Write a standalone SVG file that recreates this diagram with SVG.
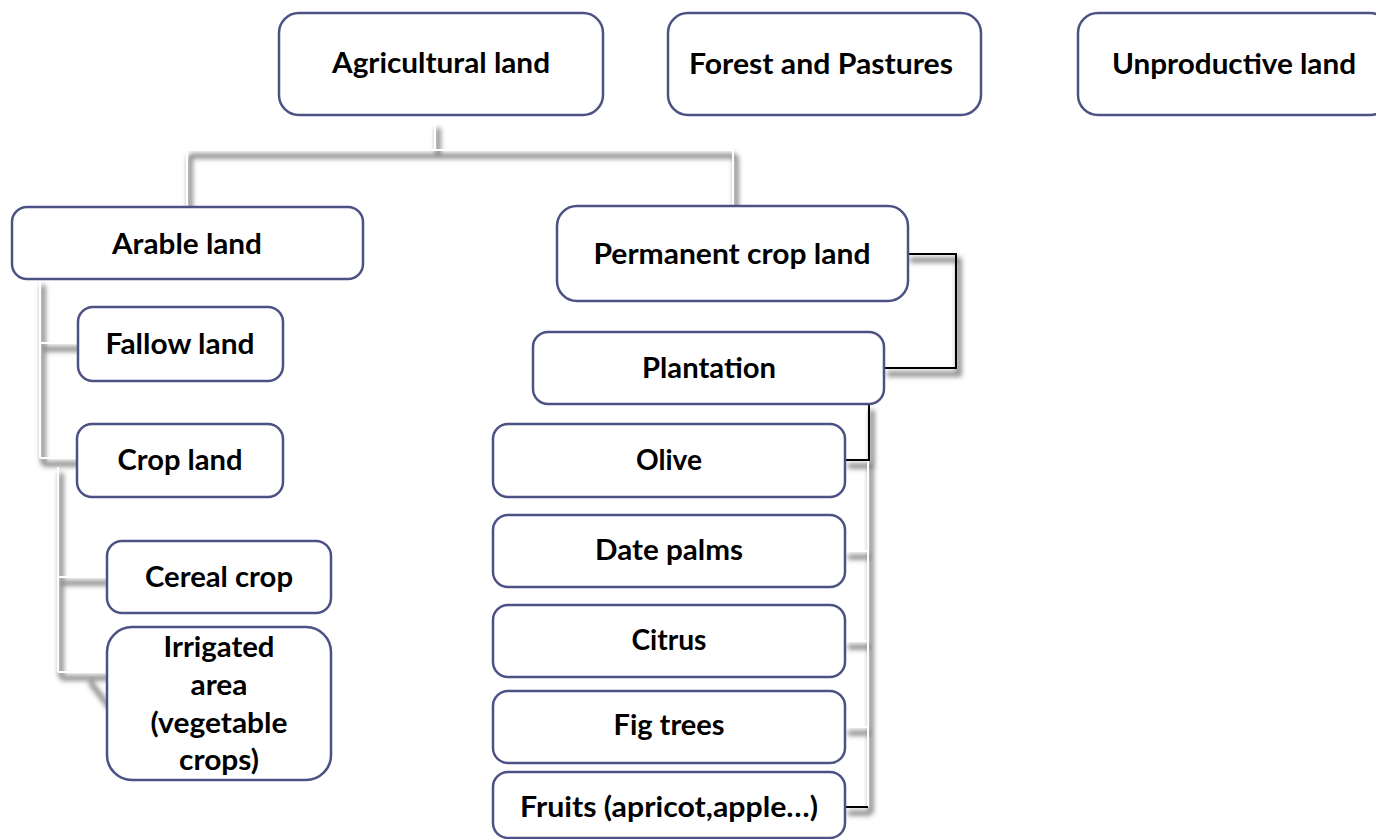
<svg xmlns="http://www.w3.org/2000/svg" width="1376" height="839" viewBox="0 0 1376 839">
<style>
.box{fill:#fff;stroke:#4c5283;stroke-width:2.5}
.t{font-family:Lato,"Open Sans","Liberation Sans",sans-serif;font-weight:700;font-size:29px;fill:#000;text-anchor:middle}
.sh{fill:none;stroke:#666;stroke-width:5;stroke-opacity:0.8}
.w{fill:none;stroke:#fff;stroke-width:2}
.k{fill:none;stroke:#000;stroke-width:2}
</style>
<defs>
<filter id="blur" x="-20%" y="-20%" width="140%" height="140%"><feGaussianBlur stdDeviation="2.5"/></filter>
</defs>
<rect width="1376" height="839" fill="#fff"/>
<g id="connectors">
<g id="shadows" class="sh" filter="url(#blur)" transform="translate(3,6)">
<path d="M435,122 V150 M187,150 H733 M187,150 V207 M733,150 V207"/>
<path d="M40,279 V458 M40,343 H78 M40,458 H77"/>
<path d="M58,467 V672 M58,577 H107 M58,672 H107"/>
<path d="M87,676 L107,702"/>
<path d="M907,254 H956 V368 H884"/>
<path d="M869,404 V460 H845"/>
<path d="M868,460 V807 M845,551 H868 M845,641 H868 M845,727 H868 M845,807 H868"/>
</g>
<g id="white-lines" class="w">
<path d="M435,122 V150 M187,150 H733 M187,150 V207 M733,150 V207"/>
<path d="M40,279 V458 M40,343 H78 M40,458 H77"/>
<path d="M58,467 V672 M58,577 H107 M58,672 H107"/>
<path d="M868,460 V807 M845,551 H868 M845,641 H868 M845,727 H868"/>
</g>
<g id="black-lines" class="k">
<path d="M907,254 H956 V368 H884"/>
<path d="M869,404 V460 H845"/>
<path d="M845,807 H868"/>
</g>
</g>
<g id="agricultural"><rect class="box" x="279" y="13" width="324" height="102" rx="20"/><text class="t" x="441" y="73" textLength="218" lengthAdjust="spacingAndGlyphs">Agricultural land</text></g>
<g id="forest"><rect class="box" x="668" y="13" width="313" height="102" rx="20"/><text class="t" x="821" y="74" textLength="264" lengthAdjust="spacingAndGlyphs">Forest and Pastures</text></g>
<g id="unproductive"><rect class="box" x="1078" y="13" width="312" height="102" rx="20"/><text class="t" x="1234" y="74" textLength="244" lengthAdjust="spacingAndGlyphs">Unproductive land</text></g>
<g id="arable"><rect class="box" x="12" y="207" width="351" height="72" rx="15"/><text class="t" x="187" y="254" textLength="150" lengthAdjust="spacingAndGlyphs">Arable land</text></g>
<g id="fallow"><rect class="box" x="78" y="307" width="205" height="74" rx="15"/><text class="t" x="180" y="354" textLength="149" lengthAdjust="spacingAndGlyphs">Fallow land</text></g>
<g id="cropland"><rect class="box" x="77" y="424" width="206" height="73" rx="15"/><text class="t" x="180" y="470" textLength="125" lengthAdjust="spacingAndGlyphs">Crop land</text></g>
<g id="cereal"><rect class="box" x="107" y="541" width="224" height="72" rx="15"/><text class="t" x="219" y="587" textLength="148" lengthAdjust="spacingAndGlyphs">Cereal crop</text></g>
<g id="irrigated"><rect class="box" x="107" y="627" width="224" height="153" rx="25"/>
<text class="t" x="219" y="657" textLength="111" lengthAdjust="spacingAndGlyphs">Irrigated</text>
<text class="t" x="219" y="695" textLength="57" lengthAdjust="spacingAndGlyphs">area</text>
<text class="t" x="219" y="733" textLength="137" lengthAdjust="spacingAndGlyphs">(vegetable</text>
<text class="t" x="219" y="770" textLength="80" lengthAdjust="spacingAndGlyphs">crops)</text></g>
<g id="permanent"><rect class="box" x="557" y="206" width="351" height="95" rx="20"/><text class="t" x="732" y="264" textLength="277" lengthAdjust="spacingAndGlyphs">Permanent crop land</text></g>
<g id="plantation"><rect class="box" x="533" y="332" width="351" height="72" rx="15"/><text class="t" x="709" y="378" textLength="134" lengthAdjust="spacingAndGlyphs">Plantation</text></g>
<g id="olive"><rect class="box" x="493" y="424" width="352" height="73" rx="15"/><text class="t" x="669" y="470" textLength="66" lengthAdjust="spacingAndGlyphs">Olive</text></g>
<g id="datepalms"><rect class="box" x="493" y="515" width="352" height="72" rx="15"/><text class="t" x="669" y="560" textLength="148" lengthAdjust="spacingAndGlyphs">Date palms</text></g>
<g id="citrus"><rect class="box" x="493" y="605" width="352" height="72" rx="15"/><text class="t" x="669" y="650" textLength="75" lengthAdjust="spacingAndGlyphs">Citrus</text></g>
<g id="figtrees"><rect class="box" x="493" y="691" width="352" height="72" rx="15"/><text class="t" x="669" y="735" textLength="111" lengthAdjust="spacingAndGlyphs">Fig trees</text></g>
<g id="fruits"><rect class="box" x="493" y="772" width="352" height="66" rx="15"/><text class="t" x="669" y="817" textLength="298" lengthAdjust="spacingAndGlyphs">Fruits (apricot,apple…)</text></g>
</svg>
